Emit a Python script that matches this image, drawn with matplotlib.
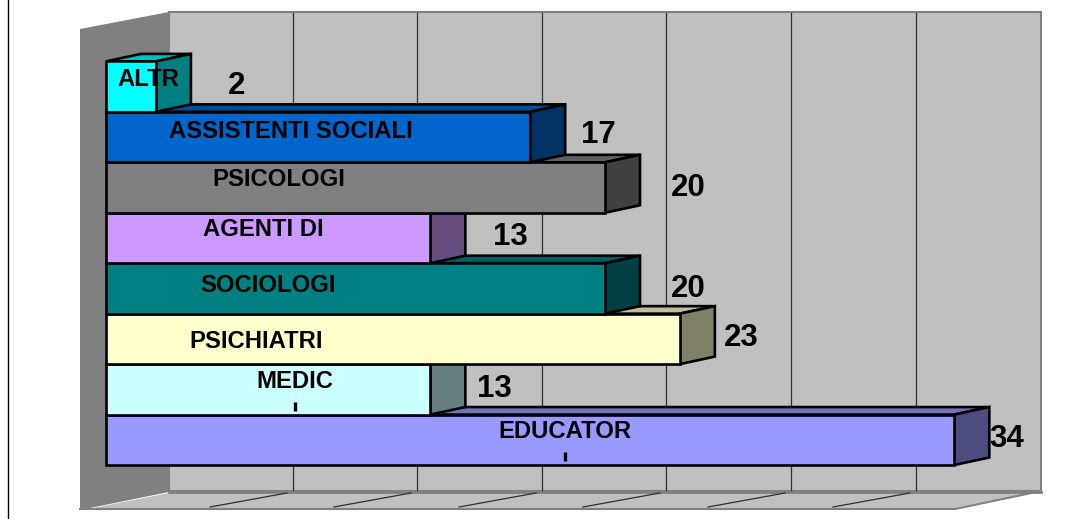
import matplotlib
matplotlib.use("Agg")
import matplotlib.pyplot as plt

plt.rcParams['font.family'] = ['Liberation Sans', 'DejaVu Sans']

# dati (dal basso verso l'alto)
categorie = ['EDUCATOR', 'MEDIC', 'PSICHIATRI', 'SOCIOLOGI', 'AGENTI DI',
             'PSICOLOGI', 'ASSISTENTI SOCIALI', 'ALTR']
valori = [34, 13, 23, 20, 13, 20, 17, 2]
colori = ['#9999FF', '#CCFFFF', '#FFFFCC', '#008080', '#CC99FF',
          '#808080', '#0066CC', '#00FFFF']

# posizioni delle etichette in pixel
pos_categorie = [(565, 431), (295, 382), (256, 341), (268, 285),
                 (263, 230), (279, 179), (291, 131), (148, 79)]
pos_valori = [(1007, 439), (494, 389), (741, 338), (688, 289),
              (510, 237), (688, 188), (598, 135), (237, 86)]
griglia_x = [293, 417, 542, 666, 791, 916]

W, H = 1078, 519
X0, SCALA_X = 106, 24.95   # pixel del valore 0, pixel per unita'
Y0, SCALA_Y = 465, 50.45  # pixel base prima barra, pixel per categoria
PROF_X = 35 / SCALA_X
PROF_Y = 7.5 / SCALA_Y
GRIGIO = '#808080'
PARETE = '#C0C0C0'
BORDO = 1.9


def scurisci(colore, k):
    r, g, b = matplotlib.colors.to_rgb(colore)
    return (r * k, g * k, b * k)


fig = plt.figure(figsize=(W / 100, H / 100), dpi=100, facecolor='white')

# sfondo in coordinate pixel: pareti e griglia
sf = fig.add_axes([0, 0, 1, 1])
sf.set_xlim(0, W)
sf.set_ylim(H, 0)
sf.axis('off')

sf.plot([7.5, 7.5], [0, H], color='black', lw=1)
sf.fill([80, 169, 169, 80], [29, 12, 492, 510], color=GRIGIO, lw=0)
sf.fill([169, 1041, 1041, 169], [12, 12, 491, 491], facecolor=PARETE,
        edgecolor=GRIGIO, lw=1.5)
sf.fill([169, 1030, 955, 93], [493, 493, 508, 508], color=PARETE, lw=0)
sf.plot([169, 1041], [491.5, 491.5], color=GRIGIO, lw=2)
sf.plot([80, 955, 1041], [509, 509, 491], color=GRIGIO, lw=1.5)
for gx in griglia_x:
    sf.plot([gx, gx], [13, 490], color='#303030', lw=0.9)
    sf.plot([gx - 6, gx - 83], [493, 507], color='#303030', lw=0.9)

# barre in coordinate dati
ax = fig.add_axes([0, 0, 1, 1], zorder=2)
ax.patch.set_alpha(0)
ax.axis('off')
ax.set_xlim(-X0 / SCALA_X, (W - X0) / SCALA_X)
ax.set_ylim((Y0 - H) / SCALA_Y, Y0 / SCALA_Y)

for i, (v, col) in enumerate(zip(valori, colori)):
    # faccia superiore e laterale
    ax.fill([0, PROF_X, v + PROF_X, v], [i + 1, i + 1 + PROF_Y, i + 1 + PROF_Y, i + 1],
            facecolor=scurisci(col, 0.75), edgecolor='black', lw=BORDO, zorder=2 + i)
    ax.fill([v, v + PROF_X, v + PROF_X, v], [i, i + PROF_Y, i + 1 + PROF_Y, i + 1],
            facecolor=scurisci(col, 0.5), edgecolor='black', lw=BORDO, zorder=2 + i)
    ax.barh(i + 0.5, v, left=0, height=1, color=col, edgecolor='black',
            linewidth=BORDO, zorder=2 + i)

for nome, (px, py) in zip(categorie, pos_categorie):
    ax.text(px, py, nome, transform=sf.transData, ha='center', va='center',
            fontsize=17.2, fontweight='bold', color='black', zorder=20)
for v, (px, py) in zip(valori, pos_valori):
    ax.text(px, py, str(v), transform=sf.transData, ha='center', va='center',
            fontsize=22.5, fontweight='bold', color='black', zorder=20)

# resti delle etichette tagliate
for px, py in [(295, 406.5), (565, 456)]:
    ax.plot([px, px], [py - 4.5, py + 4.5], transform=sf.transData,
            color='black', lw=2.4, solid_capstyle='butt', zorder=20)

fig.savefig('out.png', dpi=100)
